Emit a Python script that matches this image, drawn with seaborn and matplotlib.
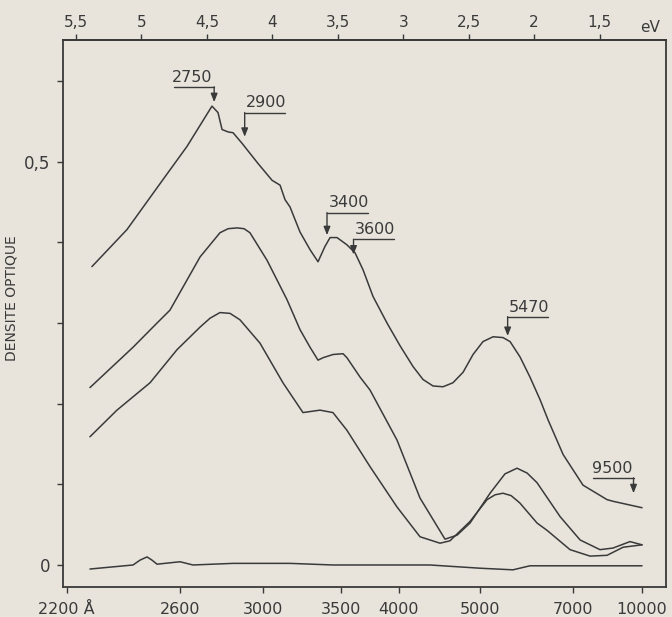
import numpy as np
import pandas as pd
import matplotlib
matplotlib.use("Agg")
import matplotlib.pyplot as plt
import seaborn as sns

# ---------------- data (energy in eV, optical density) ----------------
E_A = [5.442, 5.174, 4.899, 4.716, 4.525, 4.479, 4.448, 4.402, 4.364, 4.296, 4.174,
       4.066, 4.005, 3.967, 3.929, 3.853, 3.776, 3.715, 3.662, 3.623, 3.570, 3.494,
       3.432, 3.371, 3.295, 3.188, 3.089, 2.989, 2.913, 2.837, 2.760, 2.684, 2.607,
       2.531, 2.455, 2.378, 2.302, 2.248, 2.172, 2.096, 2.019, 1.958, 1.843, 1.691,
       1.507, 1.462, 1.240]
OD_A = [0.370, 0.416, 0.478, 0.519, 0.569, 0.561, 0.540, 0.537, 0.536, 0.523, 0.498,
        0.477, 0.471, 0.453, 0.444, 0.413, 0.391, 0.376, 0.395, 0.406, 0.406, 0.397,
        0.387, 0.366, 0.333, 0.300, 0.272, 0.246, 0.230, 0.222, 0.221, 0.226, 0.239,
        0.261, 0.277, 0.283, 0.282, 0.277, 0.258, 0.233, 0.205, 0.180, 0.137, 0.099,
        0.081, 0.079, 0.071]

E_B = [5.457, 5.128, 4.945, 4.846, 4.616, 4.464, 4.402, 4.334, 4.280, 4.235, 4.105,
       3.952, 3.853, 3.776, 3.715, 3.677, 3.601, 3.524, 3.494, 3.394, 3.318, 3.112,
       2.936, 2.745, 2.653, 2.554, 2.401, 2.287, 2.195, 2.118, 2.042, 1.866, 1.713,
       1.561, 1.462, 1.332, 1.240]
OD_B = [0.220, 0.270, 0.300, 0.316, 0.382, 0.412, 0.417, 0.418, 0.417, 0.412, 0.378,
        0.329, 0.292, 0.270, 0.254, 0.257, 0.261, 0.262, 0.257, 0.233, 0.217, 0.155,
        0.083, 0.032, 0.037, 0.052, 0.089, 0.113, 0.120, 0.114, 0.102, 0.060, 0.031,
        0.019, 0.021, 0.029, 0.025]

E_C = [5.457, 5.251, 4.998, 4.792, 4.616, 4.540, 4.464, 4.387, 4.311, 4.158, 3.983,
       3.830, 3.700, 3.601, 3.494, 3.318, 3.112, 2.936, 2.783, 2.707, 2.554, 2.424,
       2.363, 2.302, 2.240, 2.174, 2.042, 1.966, 1.790, 1.637, 1.507, 1.385, 1.240]
OD_C = [0.159, 0.192, 0.226, 0.267, 0.295, 0.306, 0.313, 0.312, 0.304, 0.275, 0.226,
        0.189, 0.192, 0.189, 0.167, 0.122, 0.072, 0.035, 0.027, 0.030, 0.054, 0.081,
        0.087, 0.089, 0.086, 0.077, 0.052, 0.043, 0.019, 0.011, 0.012, 0.022, 0.025]

E_D = [5.457, 5.128, 5.075, 5.021, 4.983, 4.945, 4.769, 4.670, 4.364, 3.929, 3.601,
       2.860, 2.478, 2.226, 2.096, 1.240]
OD_D = [-0.005, 0.000, 0.006, 0.010, 0.006, 0.001, 0.004, 0.000, 0.002, 0.002, 0.000,
        0.000, -0.004, -0.006, -0.001, -0.001]

# bottom axis: wavelengths (Angstrom)
WL_TICKS = [2200, 2600, 3000, 3500, 4000, 5000, 7000, 10000]
WL_LABELS = ["2200 Å", "2600", "3000", "3500", "4000", "5000", "7000", "10000"]
# top axis: energies (eV)
EV_TICKS = [5.5, 5.0, 4.5, 4.0, 3.5, 3.0, 2.5, 2.0, 1.5]
EV_LABELS = ["5,5", "5", "4,5", "4", "3,5", "3", "2,5", "2", "1,5"]
TOP_AXIS_SHIFT = 0.064   # offset of the hand-drawn eV scale in the original
# y axis
Y_TICKS = [0.0, 0.1, 0.2, 0.3, 0.4, 0.5, 0.6]
Y_LABELS = ["0", "", "", "", "", "0,5", ""]

# marked band positions (Angstrom), arrow tip OD, label OD, label side
ANN_WL = [2750, 2900, 3400, 3600, 5470, 9500]
ANN_TIP = [0.574, 0.531, 0.409, 0.385, 0.284, 0.089]
ANN_LAB = [0.593, 0.561, 0.437, 0.404, 0.308, 0.108]
ANN_SIDE = ["left", "right", "right", "right", "right", "left"]

HC = 12398.0  # eV*Angstrom

# ---------------- style ----------------
PAPER = "#e8e4dc"
INK = "#3a3a3a"
sns.set_theme(style="ticks")
plt.rcParams["font.family"] = ["DejaVu Sans"]

frames = []
for name, e, od in (("A", E_A, OD_A), ("B", E_B, OD_B), ("C", E_C, OD_C), ("D", E_D, OD_D)):
    frames.append(pd.DataFrame({"E": e, "OD": od, "curve": name}))
df = pd.concat(frames, ignore_index=True)

fig = plt.figure(figsize=(6.72, 6.17), dpi=100, facecolor=PAPER)
ax = fig.add_axes([63 / 672, 30 / 617, 603 / 672, 547 / 617])
ax.set_facecolor(PAPER)

sns.lineplot(data=df, x="E", y="OD", units="curve", estimator=None, sort=False,
             color=INK, linewidth=1.1, ax=ax)

ax.set_xlim(5.663, 1.057)
ax.set_ylim(-0.0273, 0.651)

ax.set_xticks(HC / np.array(WL_TICKS, dtype=float))
ax.set_xticklabels(WL_LABELS, fontsize=11.5, color=INK)
ax.set_yticks(Y_TICKS)
ax.set_yticklabels(Y_LABELS, fontsize=12, color=INK)
ax.tick_params(axis="x", direction="out", length=4, width=1, color=INK, pad=6.5)
ax.tick_params(axis="y", direction="out", length=4, width=1, color=INK, pad=5)

sec = ax.secondary_xaxis("top", functions=(lambda e: e - TOP_AXIS_SHIFT,
                                            lambda e: e + TOP_AXIS_SHIFT))
sec.set_xticks(EV_TICKS)
sec.set_xticklabels(EV_LABELS, fontsize=11, color=INK)
sec.tick_params(axis="x", direction="out", length=4, width=1, color=INK, pad=3)
sec.spines["top"].set_color(INK)
sec.spines["top"].set_linewidth(1.3)

for sp in ax.spines.values():
    sp.set_color(INK)
    sp.set_linewidth(1.3)
    sp.set_visible(True)

fig.text(650 / 672, 1 - 27 / 617, "eV", ha="center", va="center", fontsize=11, color=INK)

ax.set_xlabel("")
ax.set_ylabel("DENSITE OPTIQUE", fontsize=10, color=INK)
ax.yaxis.set_label_coords(-0.0746, 0.528)

LABEL_W = 0.31  # underline length in eV
for wl, tip, ly, side in zip(ANN_WL, ANN_TIP, ANN_LAB, ANN_SIDE):
    e = HC / wl
    ax.annotate("", xy=(e, tip), xytext=(e, ly),
                arrowprops=dict(arrowstyle="-|>,head_length=0.5,head_width=0.2",
                                color=INK, lw=1.0, shrinkA=0, shrinkB=0,
                                mutation_scale=10))
    if side == "left":
        ax.plot([e, e + LABEL_W], [ly, ly], color=INK, lw=1.0)
        ax.annotate(str(wl), xy=(e, ly), xytext=(-1, 1.5), textcoords="offset points",
                    ha="right", va="bottom", fontsize=11.5, color=INK)
    else:
        ax.plot([e, e - LABEL_W], [ly, ly], color=INK, lw=1.0)
        ax.annotate(str(wl), xy=(e, ly), xytext=(1, 1.5), textcoords="offset points",
                    ha="left", va="bottom", fontsize=11.5, color=INK)

fig.savefig("out.png", dpi=100, facecolor=PAPER)
